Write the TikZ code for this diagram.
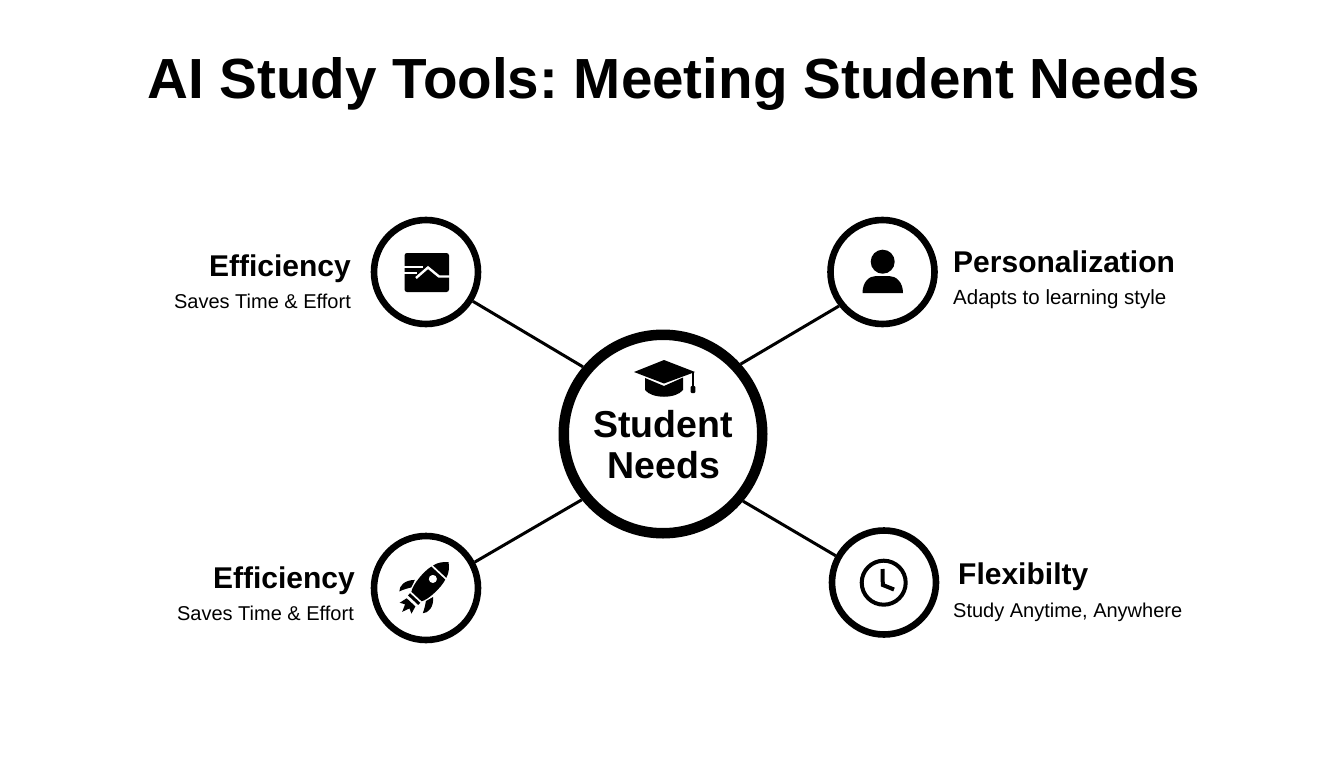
\documentclass[tikz,border=0pt]{standalone}
\usepackage{fontspec}
\setmainfont{Liberation Sans}
\frenchspacing
\tikzset{
    hubring/.style={draw,circle,line width=10.5pt,minimum size=198.5pt,inner sep=0pt,fill=white},
    satring/.style={draw,circle,line width=6.6pt,minimum size=104pt,inner sep=0pt,fill=white},
    spoke/.style={line width=3pt},
    titletext/.style={font=\fontsize{56.6}{60}\selectfont\bfseries,inner sep=0pt},
    hubtext/.style={font=\fontsize{37.5}{40}\selectfont\bfseries,inner sep=0pt,anchor=base},
    headtext/.style={font=\fontsize{30}{32}\selectfont\bfseries,inner sep=0pt},
    subtext/.style={font=\fontsize{20}{22}\selectfont,inner sep=0pt},
}
\begin{document}
\begin{tikzpicture}[x=1pt,y=-1pt]
    \useasboundingbox (0,0) rectangle (1344,768);

    \node[titletext,anchor=base] (T) at (673.5,98) {AI Study Tools: Meeting Student Needs};

    \node[hubring] (H)  at (663,434)   {};
    \node[satring] (E1) at (426,272)   {};
    \node[satring] (P)  at (882.5,272) {};
    \node[satring] (E2) at (426,588)   {};
    \node[satring] (F)  at (884,582.5) {};

    \draw[spoke] (H.140) -- (E1.-32);
    \draw[spoke] (H.42)  -- (P.218);
    \draw[spoke] (H.219) -- (E2.28);
    \draw[spoke] (H.-40) -- (F.151);

    \node[hubtext] (H1) at (663,437) {Student};
    \node[hubtext] (H2) at (664,478) {Needs};

    \node[headtext,anchor=base east] (E1a) at (351,276) {Efficiency};
    \node[subtext,anchor=base east]  (E1b) at (351,308) {Saves Time \& Effort};
    \node[headtext,anchor=base west] (Pa)  at (953,272) {Personalization};
    \node[subtext,anchor=base west,font=\fontsize{20.5}{22}\selectfont] (Pb) at (953,304) {Adapts to learning style};
    \node[headtext,anchor=base east] (E2a) at (355,588) {Efficiency};
    \node[subtext,anchor=base east]  (E2b) at (354,620) {Saves Time \& Effort};
    \node[headtext,anchor=base west] (Fa)  at (958,584) {Flexibilty};
    \node[subtext,anchor=base west]  (Fb)  at (953,617) {Study Anytime, Anywhere};

    % cap
    \fill (634,372) -- (664,360) -- (695,372) -- (664,383.5) -- cycle;
    \fill (645,378) -- (664,386) -- (683,377.5) -- (683,390) .. controls (676,399) and (652,399) .. (645,390) -- cycle;
    \draw[line width=1.3pt] (693,372) -- (693,388);
    \fill[rounded corners=1pt] (690.7,386) rectangle (695.3,393);

    % chart
    \fill[rounded corners=2.5pt] (404.5,253) rectangle (449,292);
    \draw[white,line width=2.4pt] (404,267) -- (423,267);
    \draw[white,line width=2.4pt] (404,273) -- (417,273);
    \draw[white,line width=2.4pt] (416,278) -- (428,267.5) -- (439,276.5) -- (450,276.5);

    % person
    \fill (882.7,261.7) circle (12);
    \fill (862.5,293) .. controls (862.5,282) and (869,276) .. (876,276) -- (889,276) .. controls (896,276) and (903,282) .. (903,293) -- cycle;

    % clock
    \draw[line width=4pt] (883.7,582.7) circle (22);
    \draw[line width=4pt] (882.5,569) -- (882.8,585) -- (894,589.5);

    % rocket
    \begin{scope}[shift={(416.5,596.5)},rotate=47]
        \fill[even odd rule] (0,-7) .. controls (6,-11) and (24,-12) .. (32,-9.5) -- (32,9.5) .. controls (24,12) and (6,11) .. (0,7) -- cycle
            (24,0) circle (4.2);
        \fill (34,-9) .. controls (39,-8) and (44,-4) .. (47,0) .. controls (44,4) and (39,8) .. (34,9) -- cycle;
        \fill (11,-12.5) .. controls (4,-20) and (-4,-20) .. (-8,-16) .. controls (-3,-14) and (0,-12) .. (3,-10) -- cycle;
        \fill (11,12.5) .. controls (4,20) and (-4,20) .. (-8,16) .. controls (-3,14) and (0,12) .. (3,10) -- cycle;
        \fill (-5,-7) -- (-2,-7) -- (-2,7) -- (-5,7) -- cycle;
        \fill (-8,-6) -- (-16,-8) -- (-13.5,-3) -- (-21,0) -- (-13.5,3) -- (-16,8) -- (-8,6) -- cycle;
    \end{scope}
\end{tikzpicture}
\end{document}
